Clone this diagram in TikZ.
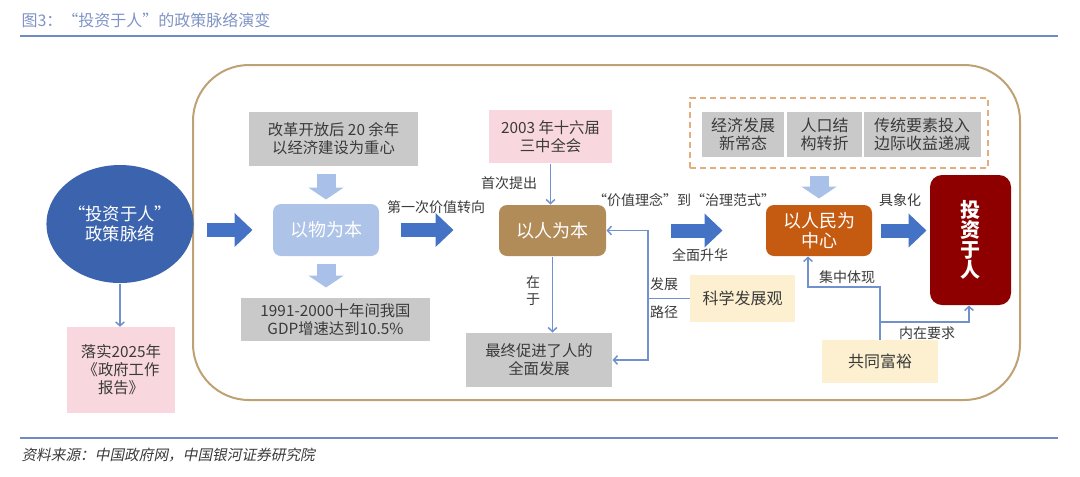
\documentclass[tikz,border=0pt]{standalone}
\usepackage{fontspec}
\setmainfont{Noto Sans CJK SC}
\newfontfamily\slantfont[FakeSlant=0.2]{Noto Sans CJK SC}
\usetikzlibrary{arrows.meta,shapes.geometric}

\definecolor{titleblue}{HTML}{7F93C4}
\definecolor{ruleblue}{HTML}{6F8AC4}
\definecolor{framebrown}{HTML}{BFA273}
\definecolor{dashorange}{HTML}{E3AE7D}
\definecolor{circblue}{HTML}{3C64AE}
\definecolor{arrowblue}{HTML}{4472C4}
\definecolor{softblue}{HTML}{A9C1E9}
\definecolor{wubenblue}{HTML}{AEC3E8}
\definecolor{boxgrey}{HTML}{C9C9C9}
\definecolor{inkgrey}{HTML}{3A3A3A}
\definecolor{pinkfill}{HTML}{F8D8DE}
\definecolor{renbrown}{HTML}{B28C58}
\definecolor{renorange}{HTML}{C55A11}
\definecolor{touzired}{HTML}{8E0000}
\definecolor{yellowfill}{HTML}{FDF0D0}
\definecolor{thinblue}{HTML}{7191CE}

\tikzset{every picture/.style={line width=0.75pt}}
\tikzset{
	greybox/.style={fill=boxgrey, text=inkgrey, align=center, inner sep=0pt, font=\fontsize{11.5}{13.5}\selectfont},
	pinkbox/.style={fill=pinkfill, text=inkgrey, align=center, inner sep=0pt, font=\fontsize{11.5}{13.5}\selectfont},
	yellowbox/.style={fill=yellowfill, text=inkgrey, align=center, inner sep=0pt, font=\fontsize{12}{14}\selectfont},
	corebox/.style={rounded corners=6pt, text=white, align=center, inner sep=0pt, font=\fontsize{13.5}{15.5}\selectfont},
	lbl/.style={text=inkgrey, align=center, inner sep=0.75pt, font=\fontsize{10.5}{12.75}\selectfont},
	bigarrow/.style={draw=arrowblue, line width=10.5pt, -{Triangle[length=13.5pt,width=24.75pt]}},
	softarrow/.style={draw=softblue, line width=14.25pt, -{Triangle[length=9pt,width=26.25pt]}},
	thinarrow/.style={draw=thinblue, line width=1.1pt, -{Straight Barb[length=3pt,width=6.5pt]}},
	thinline/.style={draw=thinblue, line width=1.1pt}
}

\begin{document}
\begin{tikzpicture}[x=0.75pt,y=0.75pt,yscale=-1,xscale=1]
\useasboundingbox (0,0) rectangle (1080,476);

%Title and rules
\node [anchor=west, text=titleblue, inner sep=0pt, font=\fontsize{12}{14}\selectfont] (title) at (21,20) {图3：“投资于人”的政策脉络演变};
\draw [ruleblue, line width=1.5pt] (20,36) -- (1058,36) ;
\draw [ruleblue, line width=1.5pt] (20,438) -- (1058,438) ;
\node [anchor=west, text=inkgrey, inner sep=0pt, font=\slantfont\fontsize{11}{13}\selectfont] (source) at (21,455) {资料来源：中国政府网，中国银河证券研究院};

%Shape: Rounded Rectangle (frame)
\draw [framebrown, line width=1.5pt, rounded corners=42pt] (193,65) rectangle (1020,400) ;

%Shape: Ellipse
\node [ellipse, fill=circblue, text=white, align=center, inner sep=0pt, minimum width=101pt, minimum height=88.5pt, font=\fontsize{13}{15.5}\selectfont] (circ) at (120,224) {“投资于人”\\政策脉络};
%Shape: Rectangle
\node [pinkbox, minimum width=81pt, minimum height=64pt] (report) at (121,370) {落实2025年\\《政府工作\\报告》};

%Shape: Rectangle
\node [greybox, minimum width=126.75pt, minimum height=40.5pt] (reform) at (333.5,139) {改革开放后 20 余年\\以经济建设为重心};
\node [corebox, fill=wubenblue, minimum width=79.5pt, minimum height=39pt] (wuben) at (326,230) {以物为本};
\node [greybox, minimum width=141.75pt, minimum height=32.25pt] (gdp) at (335.5,319.5) {1991-2000十年间我国\\GDP增速达到10.5\%};

\node [pinkbox, minimum width=92.25pt, minimum height=39.75pt] (plenum) at (550.5,136.5) {2003 年十六届\\三中全会};
\node [corebox, fill=renbrown, minimum width=80.25pt, minimum height=38.25pt] (renben) at (552.5,230.5) {以人为本};
\node [greybox, minimum width=109.5pt, minimum height=40.5pt] (quanmian) at (539,360) {最终促进了人的\\全面发展};
\node [yellowbox, minimum width=78.75pt, minimum height=35.25pt] (kexue) at (742.5,298.5) {科学发展观};

%Shape: Dashed Rectangle
\node [draw=dashorange, dash pattern=on 4.5pt off 3pt, line width=1.1pt, inner sep=0pt, minimum width=223.5pt, minimum height=52.5pt] (drivers) at (839,133) {};
\node [greybox, font=\fontsize{12}{14}\selectfont, minimum width=61.5pt, minimum height=33.75pt] (newnorm) at (743,134.5) {经济发展\\新常态};
\node [greybox, font=\fontsize{12}{14}\selectfont, minimum width=56.25pt, minimum height=33.75pt] (popturn) at (824.5,134.5) {人口结\\构转折};
\node [greybox, font=\fontsize{12}{14}\selectfont, minimum width=87.75pt, minimum height=33.75pt] (diminish) at (922,134.5) {传统要素投入\\边际收益递减};

\node [corebox, fill=renorange, minimum width=79.5pt, minimum height=38.25pt] (renmin) at (819,230.5) {以人民为\\中心};
\node [corebox, fill=touzired, rounded corners=9pt, minimum width=60.75pt, minimum height=97.5pt, font=\bfseries\fontsize{15}{15}\selectfont] (touzi) at (970.5,240) {投\\资\\于\\人};
\node [yellowbox, minimum width=87pt, minimum height=32.25pt] (fuyu) at (880,361.5) {共同富裕};

%Block Arrows
\draw [bigarrow, shorten <=9.4pt, shorten >=15pt] (circ.east |- wuben.west) -- (wuben.west) ;
\draw [bigarrow, shorten <=15.75pt, shorten >=33.75pt] (wuben.east) -- (wuben.east -| renben.west) ;
\draw [bigarrow, shorten <=48pt, shorten >=32.25pt] (renben.east) -- (renben.east -| renmin.west) ;
\draw [bigarrow, shorten <=6pt, shorten >=2.25pt] (renmin.east) -- (renmin.east -| touzi.west) ;
\draw [softarrow, shorten <=5.25pt, shorten >=3pt] (wuben.north |- reform.south) -- (wuben.north) ;
\draw [softarrow, shorten <=5.25pt, shorten >=7.5pt] (wuben.south) -- (wuben.south |- gdp.north) ;
\draw [softarrow, shorten <=5.25pt, shorten >=4.5pt] (renmin.north |- drivers.south) -- (renmin.north) ;

%Straight Lines
\draw [thinarrow] (circ.south) -- (circ.south |- report.north) ;
\draw [thinarrow] (plenum.south) -- (plenum.south |- renben.north) ;
\draw [thinarrow] (renben.south) -- (renben.south |- quanmian.north) ;
\coordinate (fork) at (648,298.5) ;
\draw [thinline] (kexue.west) -- (fork) ;
\draw [thinarrow] (fork) |- (renben.east) ;
\draw [thinarrow] (fork) |- (quanmian.east) ;
\coordinate (bend) at (880,287) ;
\coordinate (split) at (880,322) ;
\draw [thinarrow] (fuyu.north) -- (bend) -| ([xshift=-8.25pt]renmin.south) ;
\draw [thinarrow] (split) -| ([xshift=-1.1pt]touzi.south) ;

% Text Node
\node [lbl] (lbshift) at (436,207) {第一次价值转向};
\node [lbl] (lbfirst) at (509,183) {首次提出};
\node [lbl] (lbin) at (533,291) {在\\于};
\node [lbl] (lbdev) at (664,284) {发展};
\node [lbl] (lbpath) at (664,312) {路径};
\node [lbl] (lbparadigm) at (684,200) {“价值理念”到“治理范式”};
\node [lbl] (lbsublime) at (700,255) {全面升华};
\node [lbl] (lbconcrete) at (900,200) {具象化};
\node [lbl] (lbembody) at (847,277) {集中体现};
\node [lbl] (lbinner) at (927,333) {内在要求};

\end{tikzpicture}
\end{document}
